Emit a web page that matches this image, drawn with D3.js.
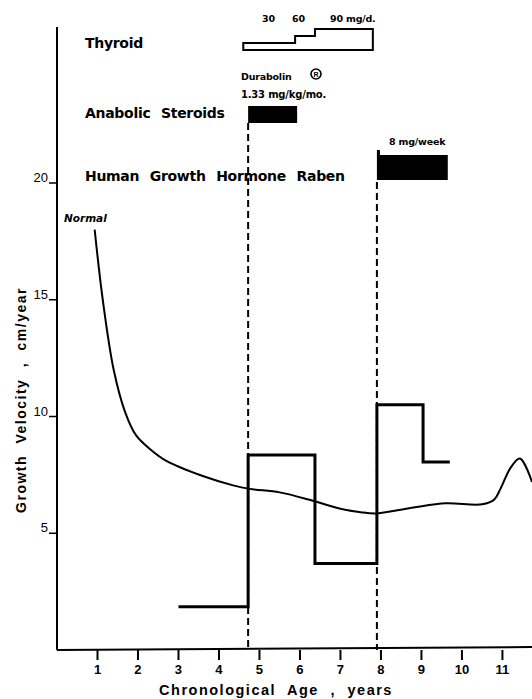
<!DOCTYPE html>
<html>
<head>
<meta charset="utf-8">
<script src="https://cdn.jsdelivr.net/npm/d3@7"></script>
<style>
  body { margin: 0; background: #fff; }
  svg { display: block; }
  text { font-family: "Liberation Sans", Arial, sans-serif; fill: #000; }
</style>
</head>
<body>
<svg width="532" height="699"></svg>
<script>
// patient growth velocity (cm/year) by age, step per treatment period
var patientAge = [3, 4.72, 6.37, 7.9, 9.04, 9.7];
var patientVel = [1.85, 8.35, 3.7, 10.5, 8.05, 8.05];

// normal growth velocity curve
var normalAge = [0.93, 1.13, 1.4, 1.68, 1.95, 2.3, 2.7, 3.6, 4.35, 4.76, 5.5, 6.3, 7.0, 7.5, 7.9, 8.8, 9.6, 10.5, 10.8, 10.95, 11.2, 11.43, 11.73];
var normalVel = [18.0, 15.0, 12.0, 10.2, 9.2, 8.6, 8.1, 7.45, 7.05, 6.9, 6.75, 6.4, 6.05, 5.9, 5.85, 6.1, 6.28, 6.24, 6.45, 6.9, 7.8, 8.2, 7.2];

// treatments
var thyroidStart = [4.6, 5.88, 6.37];
var thyroidDose = [30, 60, 90];
var thyroidEnd = 7.8;
var steroidPeriod = [4.72, 5.93];
var hghPeriod = [7.9, 9.65];

var xTicks = [1, 2, 3, 4, 5, 6, 7, 8, 9, 10, 11];
var yTicks = [5, 10, 15, 20];

var svg = d3.select("svg");

var x = d3.scaleLinear().domain([0, 11.73]).range([57, 532]);
var y = d3.scaleLinear().domain([0, 20]).range([650, 183]);
var dose = d3.scaleLinear().domain([0, 90]).range([50, 29]);

// axes
svg.append("line")
    .attr("x1", x(0)).attr("x2", x(0))
    .attr("y1", 27).attr("y2", y(0))
    .attr("stroke", "#000").attr("stroke-width", 2);
svg.append("line")
    .attr("x1", x(0)).attr("x2", 532)
    .attr("y1", y(0)).attr("y2", y(0) - 3)
    .attr("stroke", "#000").attr("stroke-width", 2);

var xAxis = svg.append("g");
xAxis.selectAll("line").data(xTicks).enter().append("line")
    .attr("x1", d => x(d)).attr("x2", d => x(d))
    .attr("y1", y(0)).attr("y2", y(0) + 10)
    .attr("stroke", "#000").attr("stroke-width", 2);
xAxis.selectAll("text").data(xTicks).enter().append("text")
    .attr("x", d => x(d)).attr("y", 674)
    .attr("text-anchor", "middle")
    .style("font-size", "13px").style("font-weight", "bold")
    .text(d => d);

var yAxis = svg.append("g");
yAxis.selectAll("line").data(yTicks).enter().append("line")
    .attr("x1", x(0) - 8).attr("x2", x(0))
    .attr("y1", d => y(d)).attr("y2", d => y(d))
    .attr("stroke", "#000").attr("stroke-width", 1.5);
yAxis.selectAll("text").data(yTicks).enter().append("text")
    .attr("x", x(0) - 9).attr("y", d => y(d) - 1)
    .attr("text-anchor", "end")
    .style("font-size", "13px")
    .text(d => d);

svg.append("text")
    .attr("x", 276).attr("y", 695)
    .attr("text-anchor", "middle")
    .style("font-size", "14.5px").style("font-weight", "bold")
    .style("letter-spacing", "1.5px").style("word-spacing", "6px")
    .text("Chronological  Age ,  years");

svg.append("text")
    .attr("transform", "translate(26,400) rotate(-90)")
    .attr("text-anchor", "middle")
    .style("font-size", "14px").style("font-weight", "bold")
    .style("letter-spacing", "1.5px").style("word-spacing", "6px")
    .text("Growth  Velocity ,  cm/year");

// dashed markers for treatment starts
svg.append("line")
    .attr("x1", x(steroidPeriod[0])).attr("x2", x(steroidPeriod[0]))
    .attr("y1", 123).attr("y2", y(0))
    .attr("stroke", "#000").attr("stroke-width", 2)
    .attr("stroke-dasharray", "7,4");
svg.append("line")
    .attr("x1", x(hghPeriod[0])).attr("x2", x(hghPeriod[0]))
    .attr("y1", 182).attr("y2", y(0))
    .attr("stroke", "#000").attr("stroke-width", 2)
    .attr("stroke-dasharray", "7,4");

// normal curve
var normalLine = d3.line()
    .x(d => x(d[0])).y(d => y(d[1]))
    .curve(d3.curveCatmullRom.alpha(0.5));
svg.append("path")
    .datum(normalAge.map((a, i) => [a, normalVel[i]]))
    .attr("d", normalLine)
    .attr("fill", "none").attr("stroke", "#000").attr("stroke-width", 2);

svg.append("text")
    .attr("x", 64).attr("y", 222)
    .style("font-family", "'DejaVu Sans', sans-serif")
    .style("font-size", "10.5px").style("font-weight", "bold").style("font-style", "italic")
    .text("Normal");

// patient steps
var stepLine = d3.line()
    .x(d => x(d[0])).y(d => y(d[1]))
    .curve(d3.curveStepAfter);
svg.append("path")
    .datum(patientAge.map((a, i) => [a, patientVel[i]]))
    .attr("d", stepLine)
    .attr("fill", "none").attr("stroke", "#000").attr("stroke-width", 3);

// treatment rows
var labelStyle = function (t) {
    t.style("font-family", "'DejaVu Sans', sans-serif")
     .style("font-size", "14px").style("font-weight", "bold")
     .style("letter-spacing", "-0.3px").style("word-spacing", "6px");
};
svg.append("text").attr("x", 85).attr("y", 48).call(labelStyle).text("Thyroid");
svg.append("text").attr("x", 85).attr("y", 118).call(labelStyle).text("Anabolic  Steroids");
svg.append("text").attr("x", 85).attr("y", 181).call(labelStyle).text("Human  Growth  Hormone  Raben");

// thyroid dose outline
var thyPts = [[thyroidStart[0], 0]];
thyroidStart.forEach(function (s, i) {
    thyPts.push([s, thyroidDose[i]]);
    var e = i < thyroidStart.length - 1 ? thyroidStart[i + 1] : thyroidEnd;
    thyPts.push([e, thyroidDose[i]]);
});
thyPts.push([thyroidEnd, 0]);
svg.append("path")
    .attr("d", d3.line().x(d => x(d[0])).y(d => dose(d[1]))(thyPts) + "Z")
    .attr("fill", "none").attr("stroke", "#000").attr("stroke-width", 2);

var smallText = function (t) {
    t.style("font-family", "'DejaVu Sans', sans-serif")
     .style("font-size", "9.5px").style("font-weight", "bold")
     .style("letter-spacing", "-0.2px");
};
svg.selectAll(".dose").data(thyroidDose).enter().append("text")
    .attr("x", (d, i) => [262, 292, 330][i]).attr("y", 22)
    .call(smallText)
    .text((d, i) => i == 2 ? d + "  mg/d." : d);

svg.append("rect")
    .attr("x", x(steroidPeriod[0])).attr("width", x(steroidPeriod[1]) - x(steroidPeriod[0]))
    .attr("y", 106).attr("height", 17).attr("fill", "#000");
svg.append("text").attr("x", 241).attr("y", 80).call(smallText).text("Durabolin");
svg.append("circle").attr("cx", 316).attr("cy", 74).attr("r", 5)
    .attr("fill", "none").attr("stroke", "#000").attr("stroke-width", 1.6);
svg.append("text").attr("x", 316).attr("y", 77).attr("text-anchor", "middle")
    .style("font-size", "7px").style("font-weight", "bold").text("R");
svg.append("text").attr("x", 241).attr("y", 98).call(smallText)
    .style("font-size", "10px").text("1.33 mg/kg/mo.");

svg.append("rect")
    .attr("x", x(hghPeriod[0])).attr("width", x(hghPeriod[1]) - x(hghPeriod[0]))
    .attr("y", 155).attr("height", 25).attr("fill", "#000");
svg.append("rect")
    .attr("x", x(hghPeriod[0])).attr("width", 3)
    .attr("y", 150).attr("height", 6).attr("fill", "#000");
svg.append("text").attr("x", 389).attr("y", 145).call(smallText).text("8 mg/week");
</script>
</body>
</html>
